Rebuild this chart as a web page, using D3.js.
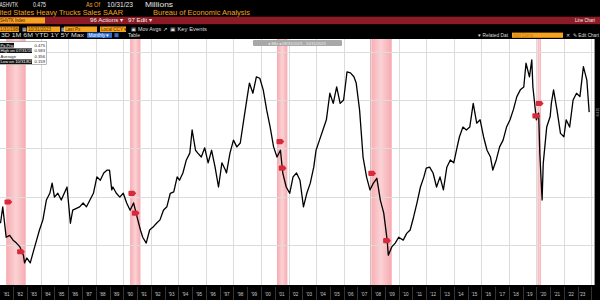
<!DOCTYPE html>
<html>
<head>
<meta charset="utf-8">
<script src="https://cdn.jsdelivr.net/npm/d3@7"></script>
<style>
  body { margin: 0; background: #000; }
  svg { display: block; }
</style>
</head>
<body>
<svg id="svg" width="600" height="300"></svg>
<script>
// monthly heavy truck sales, SAAR, millions
const months = [
  "1981-01","1981-03","1981-06","1981-09","1981-12","1982-03","1982-06","1982-09","1982-10","1982-12",
  "1983-03","1983-06","1983-08","1983-11","1984-02","1984-05","1984-08","1984-10","1984-12","1985-03",
  "1985-06","1985-11","1986-02","1986-04","1986-10","1987-01","1987-04","1987-07","1987-10","1988-01",
  "1988-04","1988-07","1988-10","1988-12","1989-02","1989-03","1989-06","1989-09","1989-12","1990-03",
  "1990-06","1990-09","1990-12","1991-03","1991-05","1991-08","1991-11","1992-02","1992-05","1992-08",
  "1992-11","1993-02","1993-05","1993-08","1993-11","1994-01","1994-04","1994-07","1994-10","1994-12",
  "1995-03","1995-05","1995-08","1995-11","1996-02","1996-05","1996-08","1996-11","1997-02","1997-05",
  "1997-06","1997-09","1997-12","1998-03","1998-06","1998-09","1998-12","1999-02","1999-05","1999-08",
  "1999-11","2000-02","2000-05","2000-08","2000-11","2001-02","2001-05","2001-07","2001-10","2002-01",
  "2002-04","2002-07","2002-10","2003-01","2003-04","2003-07","2003-10","2003-12","2004-03","2004-06",
  "2004-09","2004-12","2005-03","2005-06","2005-09","2005-12","2006-03","2006-06","2006-09","2006-11",
  "2007-02","2007-05","2007-08","2007-11","2008-02","2008-05","2008-08","2008-11","2009-02","2009-03",
  "2009-06","2009-09","2009-12","2010-04","2010-07","2010-10","2011-01","2011-04","2011-07","2011-10",
  "2011-12","2012-03","2012-06","2012-09","2012-12","2013-03","2013-06","2013-09","2013-12","2014-03",
  "2014-05","2014-08","2014-11","2015-02","2015-05","2015-08","2015-11","2016-02","2016-05","2016-08",
  "2016-10","2017-01","2017-04","2017-07","2017-10","2018-01","2018-04","2018-07","2018-10","2019-01",
  "2019-03","2019-06","2019-08","2019-09","2019-12","2020-02","2020-03","2020-05","2020-06","2020-09",
  "2020-12","2021-01","2021-03","2021-06","2021-09","2021-12","2022-02","2022-05","2022-08","2022-11",
  "2023-02","2023-05","2023-08","2023-10"
];
const sales = [
  0.245,0.279,0.216,0.220,0.210,0.204,0.196,0.179,0.163,0.173,
  0.163,0.189,0.206,0.231,0.252,0.293,0.307,0.328,0.299,0.307,
  0.293,0.320,0.245,0.272,0.279,0.287,0.279,0.293,0.307,0.341,
  0.334,0.349,0.355,0.355,0.314,0.320,0.307,0.299,0.307,0.287,
  0.272,0.287,0.258,0.231,0.216,0.204,0.231,0.237,0.245,0.252,
  0.272,0.279,0.307,0.310,0.341,0.334,0.349,0.376,0.390,0.438,
  0.396,0.390,0.382,0.401,0.370,0.396,0.361,0.320,0.370,0.355,
  0.349,0.390,0.417,0.403,0.411,0.459,0.506,0.535,0.514,0.548,
  0.545,0.521,0.479,0.444,0.403,0.382,0.396,0.349,0.320,0.307,
  0.341,0.349,0.334,0.279,0.307,0.328,0.361,0.396,0.417,0.438,
  0.459,0.514,0.493,0.527,0.493,0.500,0.558,0.556,0.548,0.535,
  0.479,0.382,0.341,0.314,0.328,0.338,0.293,0.266,0.210,0.179,
  0.196,0.204,0.216,0.210,0.224,0.231,0.258,0.287,0.320,0.341,
  0.359,0.361,0.349,0.320,0.341,0.314,0.361,0.376,0.370,0.403,
  0.424,0.444,0.438,0.444,0.493,0.452,0.459,0.424,0.396,0.382,
  0.355,0.376,0.403,0.417,0.444,0.459,0.480,0.507,0.521,0.527,
  0.576,0.548,0.583,0.527,0.459,0.473,0.390,0.293,0.369,0.444,
  0.466,0.493,0.521,0.479,0.431,0.424,0.459,0.444,0.500,0.514,
  0.507,0.569,0.541,0.475
];

// NBER recessions (shaded)
const recessionStarts = ["1981-07","1990-07","2001-03","2007-12","2020-02"];
const recessionEnds   = ["1982-11","1991-03","2001-11","2009-06","2020-04"];

// key event flags
const eventMonths = ["1981-08","1982-07","1990-08","1990-11","2001-05","2001-07","2008-01","2009-02","2019-12","2020-03"];
const eventValues = [0.289,0.186,0.307,0.266,0.414,0.359,0.348,0.209,0.467,0.493];

const yTicks = [0.2, 0.3, 0.4, 0.5, 0.6];
const firstYear = 1981, lastYear = 2023;

const legendLabels = ["Px Price", "High on 07/31/19", "Average", "Low on 10/31/82"];
const legendValues = ["0.475", "0.583", "0.356", "0.159"];

const parseMonth = d3.timeParse("%Y-%m");
const monthEnd = s => d3.timeMonth.offset(parseMonth(s), 1);

const svg = d3.select("#svg");
const amber = "#f5a21f";
const font = "'Liberation Sans', Arial, sans-serif";

//------ chart frame ------
const plot = { left: 0, right: 594, top: 39, bottom: 285 };

const x = d3.scaleTime()
  .domain([new Date(1981, 0, 1), new Date(2024, 0, 1)])
  .range([-0.65, 591.46]);
const y = d3.scaleLinear()
  .domain([0.2, 0.5])
  .range([245, 100]);

svg.append("rect").attr("width", 600).attr("height", 300).attr("fill", "#000");

svg.append("defs").append("clipPath").attr("id", "clip")
  .append("rect")
  .attr("x", plot.left).attr("y", plot.top)
  .attr("width", plot.right - plot.left).attr("height", plot.bottom - plot.top);

const grad = svg.select("defs").append("linearGradient").attr("id", "band");
grad.append("stop").attr("offset", "0%").attr("stop-color", "#f6aab0");
grad.append("stop").attr("offset", "50%").attr("stop-color", "#fbd2d5");
grad.append("stop").attr("offset", "100%").attr("stop-color", "#f6aab0");

svg.append("rect")
  .attr("x", plot.left).attr("y", plot.top)
  .attr("width", plot.right - plot.left).attr("height", plot.bottom - plot.top)
  .attr("fill", "#fff");

const g = svg.append("g").attr("clip-path", "url(#clip)");

// recession bands
g.selectAll(".band")
  .data(recessionStarts.map((s, i) => [parseMonth(s), monthEnd(recessionEnds[i])]))
  .join("rect")
  .attr("class", "band")
  .attr("x", d => x(d[0]))
  .attr("width", d => x(d[1]) - x(d[0]))
  .attr("y", plot.top).attr("height", plot.bottom - plot.top)
  .attr("fill", "url(#band)");

// grid
const gridYears = d3.range(1984, 2025, 2).map(yr => new Date(yr, 0, 1));
g.selectAll(".vgrid")
  .data(gridYears)
  .join("line")
  .attr("x1", d => Math.round(x(d)) + 0.5).attr("x2", d => Math.round(x(d)) + 0.5)
  .attr("y1", plot.top).attr("y2", plot.bottom)
  .attr("stroke", "#dcdcdc").attr("stroke-width", 1);

g.selectAll(".hgrid")
  .data(yTicks)
  .join("line")
  .attr("x1", plot.left).attr("x2", plot.right)
  .attr("y1", d => Math.round(y(d)) + 0.5).attr("y2", d => Math.round(y(d)) + 0.5)
  .attr("stroke", "#dcdcdc").attr("stroke-width", 1);

// series
const series = months.map((m, i) => ({ date: monthEnd(m), value: sales[i] }));
const line = d3.line()
  .x(d => x(d.date))
  .y(d => y(d.value));

g.append("path")
  .datum(series)
  .attr("fill", "none")
  .attr("stroke", "#000")
  .attr("stroke-width", 1.3)
  .attr("stroke-linejoin", "round")
  .attr("d", line);

// event flags
const flag = "M-3,-2.6 L1.5,-2.6 L3.8,0 L1.5,2.6 L-3,2.6 Q-4,2.6 -4,1.6 L-4,-1.6 Q-4,-2.6 -3,-2.6 Z";
g.selectAll(".flag")
  .data(eventMonths.map((m, i) => ({ date: monthEnd(m), value: eventValues[i] })))
  .join("path")
  .attr("d", flag)
  .attr("transform", d => `translate(${x(d.date)},${y(d.value)})`)
  .attr("fill", "#d8293a");

// right edge of plot
svg.append("line")
  .attr("x1", plot.right + 0.5).attr("x2", plot.right + 0.5)
  .attr("y1", plot.top).attr("y2", plot.bottom)
  .attr("stroke", "#999");

// last price tag, turned upright to fit the narrow right axis strip
const lastY = y(sales[sales.length - 1]);
svg.append("text")
  .attr("transform", `translate(598.6,${lastY}) rotate(-90)`)
  .attr("text-anchor", "middle")
  .attr("font-family", font).attr("font-size", 3.4).attr("fill", "#bbb")
  .text(d3.format(".3f")(sales[sales.length - 1]));

//------ legend box ------
const legend = svg.append("g");
legend.append("rect")
  .attr("x", -1).attr("y", 41.5).attr("width", 47.5).attr("height", 23)
  .attr("fill", "#fff").attr("stroke", "#888").attr("stroke-width", 0.6);
legendLabels.forEach((lab, i) => {
  const yy = 46.5 + i * 5.5;
  const w = i === 0 ? 14 : (i === 2 ? 0 : 32);
  if (w) legend.append("rect").attr("x", 0).attr("y", yy - 3.6).attr("width", w).attr("height", 4.6).attr("fill", "#111");
  legend.append("text").attr("x", 0.5).attr("y", yy)
    .attr("font-family", font).attr("font-size", 4.2)
    .attr("fill", w ? "#fff" : "#222").text(lab);
  legend.append("text").attr("x", 45).attr("y", yy).attr("text-anchor", "end")
    .attr("font-family", font).attr("font-size", 4.2).attr("fill", "#222").text(legendValues[i]);
});

// grey zoom button at top of plot
svg.append("rect").attr("x", 253).attr("y", 40).attr("width", 89).attr("height", 6)
  .attr("rx", 1).attr("fill", "#a8a8a8");
svg.append("text").attr("x", 297).attr("y", 44.6).attr("text-anchor", "middle")
  .attr("font-family", font).attr("font-size", 4).attr("fill", "#eee")
  .text("◂ Mkt  ◂ 08/31/2023 - 10/31/2023");

//------ x axis bar ------
svg.append("rect").attr("x", 0).attr("y", plot.bottom).attr("width", 600).attr("height", 300 - plot.bottom)
  .attr("fill", "#000");
const years = d3.range(firstYear, lastYear + 1);
const xEnd = x(monthEnd(months[months.length - 1]));
svg.selectAll(".sep")
  .data(years.slice(1).concat([lastYear + 1]))
  .join("line")
  .attr("x1", d => Math.round(Math.min(x(new Date(d, 0, 1)), xEnd + 2)) + 0.5)
  .attr("x2", d => Math.round(Math.min(x(new Date(d, 0, 1)), xEnd + 2)) + 0.5)
  .attr("y1", 287).attr("y2", 300)
  .attr("stroke", "#333");
svg.selectAll(".yr")
  .data(years)
  .join("text")
  .attr("x", d => (Math.max(0, x(new Date(d, 0, 1))) + Math.min(x(new Date(d + 1, 0, 1)), xEnd - 2)) / 2)
  .attr("y", 295.5)
  .attr("text-anchor", "middle")
  .attr("font-family", font).attr("font-size", 4.6).attr("fill", "#c8c8c8")
  .text(d => d3.timeFormat("'%y")(new Date(d, 0, 1)));

//------ terminal header ------
const txt = (x0, y0, s, w, color, size) => {
  const t = svg.append("text").attr("x", x0).attr("y", y0)
    .attr("font-family", font).attr("font-size", size || 7).attr("fill", color).text(s);
  if (w) t.attr("textLength", w).attr("lengthAdjust", "spacingAndGlyphs");
  return t;
};
txt(-0.5, 7, "ASHVTK", 18.5, "#e8e8e8");
txt(33, 7, "0.475", 13, "#e8e8e8");
txt(86, 7, "As Of", 14, amber);
txt(107, 7, "10/31/23", 26, "#e8e8e8");
txt(145, 7, "Millions", 28, "#e8e8e8");
txt(-0.5, 15, "ited States Heavy Trucks Sales SAAR", 123.5, amber);
txt(153, 15, "Bureau of Economic Analysis", 97, amber);

// red action bar
svg.append("rect").attr("x", 0).attr("y", 16.7).attr("width", 600).attr("height", 7.5).attr("fill", "#8c1b25");
svg.append("rect").attr("x", 0).attr("y", 17.4).attr("width", 45).attr("height", 6).attr("fill", amber);
txt(0, 22.4, "SHVTK Index", 25, "#3a1a00", 6);
txt(90, 22.4, "96 Actions ▾", 33, "#f2f2f2", 6);
txt(128, 22.4, "97 Edit ▾", 24, "#f2f2f2", 6);
txt(575, 22.4, "Line Chart", 20, "#f2f2f2", 5.5);

// field row
const boxes = [[-1, 20, "1/31/1980"], [27, 33, "10/31/2023"], [64, 33, "Last Px"], [100, 26, "Local CCY ▾"]];
boxes.forEach(b => {
  svg.append("rect").attr("x", b[0]).attr("y", 26.5).attr("width", b[1]).attr("height", 5.5).attr("fill", amber);
  txt(b[0] + 1, 31, b[2], null, "#5a3000", 4.6);
});
txt(21.5, 31, "▦", null, "#ddd", 4.6);
txt(60.5, 31, "▦", null, "#ddd", 4.6);
txt(131, 31, "▣ Mov Avgs ↗", 36, "#ddd", 5);
txt(170, 31, "▣ Key Events", 37, "#ddd", 5);

// period row
txt(1, 37, "3D   1M   6M   YTD   1Y   5Y   Max", 83, "#ddd", 4.6);
svg.append("rect").attr("x", 87).attr("y", 32.6).attr("width", 25).attr("height", 5.2).attr("fill", "#2d6fd2");
txt(88.5, 37, "Monthly ▾", 21, "#fff", 4.6);
svg.append("rect").attr("x", 114.5).attr("y", 33.2).attr("width", 4).attr("height", 4).attr("fill", "#2d6fd2");
txt(128, 37, "Table", 12, "#ddd", 4.6);
txt(478, 37, "▾ Related Dat", 30, "#ddd", 4.6);
svg.append("rect").attr("x", 512).attr("y", 32.6).attr("width", 51).attr("height", 5.2).attr("fill", amber);
txt(513, 37, "Add Comp", 20, "#c07a10", 4.6);
txt(566, 37, "✕", null, "#ddd", 4.6);
txt(573, 37, "✎ Edit Chart", 26, "#ddd", 4.6);
</script>
</body>
</html>
